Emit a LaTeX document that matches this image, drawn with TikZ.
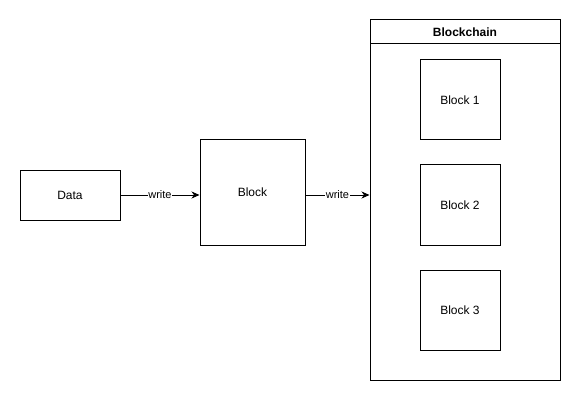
\documentclass[tikz,border=0pt]{standalone}
\usepackage{fontspec}
\setmainfont{Liberation Sans}
\usetikzlibrary{arrows.meta}
\tikzset{
	box/.style={draw, line width=1pt, fill=white, inner sep=0pt, font=\fontsize{12}{14}\selectfont},
	link/.style={line width=1pt, -{Stealth[length=8pt, width=7pt, inset=2.5pt]}},
	linklabel/.style={fill=white, inner sep=0.5pt, font=\fontsize{11}{13}\selectfont}
}
\begin{document}
\begin{tikzpicture}[x=1pt, y=-1pt]
	\useasboundingbox (0,0) rectangle (581,401);
	% source and single block
	\node[box, minimum width=100pt, minimum height=50pt] (data) at (70,195) {Data};
	\node[box, minimum width=105pt, minimum height=105pt] (block) at (252.5,192.5) {Block};

	% container with header
	\node[box, minimum width=190pt, minimum height=360pt] (chain) at (465,200) {};
	\node[box, minimum width=190pt, minimum height=24pt, font=\fontsize{12}{14}\selectfont\bfseries] (chainhead) at (465,32) {Blockchain};

	% blocks inside the container
	\node[box, minimum width=80pt, minimum height=80pt] (block1) at (460,100) {Block 1};
	\node[box, minimum width=80pt, minimum height=80pt] (block2) at (460,205) {Block 2};
	\node[box, minimum width=80pt, minimum height=80pt] (block3) at (460,310) {Block 3};

	% writes
	\draw[link] (data.east) -- node[linklabel] {write} (data.east -| block.west);
	\draw[link] (block.east |- data.east) -- node[linklabel] {write} (data.east -| chain.west);
\end{tikzpicture}
\end{document}
